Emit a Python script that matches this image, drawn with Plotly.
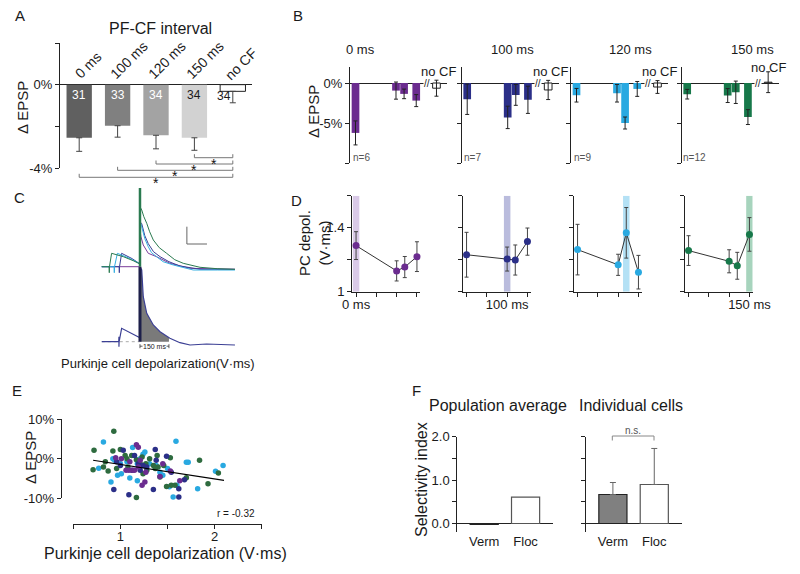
import numpy as np
import plotly.graph_objects as go

# ------------------------------------------------------------------ data
# Panel A : change of EPSP for each PF-CF interval (population)
a_labels = ["0 ms", "100 ms", "120 ms", "150 ms", "no CF"]
a_vals = [-2.55, -1.97, -2.43, -2.55, -0.32]
a_err = [0.65, 0.55, 0.65, 0.60, 0.55]
a_n = ["31", "33", "34", "34", "34"]
a_sig_pairs = [(3, 4), (2, 4), (1, 4), (0, 4)]

# Panel B : EPSP change vs. tested interval, for each trained interval
b_titles = ["0 ms", "100 ms", "120 ms", "150 ms"]
b_times = [0, 100, 120, 150]
b_vals = [[-6.24, -0.95, -1.36, -2.20],
          [-2.03, -4.30, -1.49, -2.10],
          [-1.53, -1.28, -5.00, -0.74],
          [-1.40, -1.57, -1.16, -4.26]]
b_err = [[1.50, 1.07, 0.60, 0.75],
         [1.90, 1.40, 1.30, 1.70],
         [0.85, 1.10, 0.75, 0.93],
         [0.60, 0.87, 1.40, 0.93]]
b_nocf_time = 200
b_nocf_vals = [-0.65, -0.87, -0.50, 0.10]
b_nocf_err = [1.00, 1.20, 0.80, 1.30]
b_n = ["n=6", "n=7", "n=9", "n=12"]

# Panel D : PC depolarization (V·ms)
d_vals = [[1.288, 1.130, 1.154, 1.219],
          [1.231, 1.204, 1.198, 1.313],
          [1.263, 1.168, 1.368, 1.122],
          [1.257, 1.190, 1.162, 1.358]]
d_err = [[0.087, 0.063, 0.066, 0.093],
         [0.140, 0.075, 0.094, 0.085],
         [0.158, 0.066, 0.158, 0.105],
         [0.093, 0.072, 0.084, 0.105]]

# Panel C : example traces (time ms relative to CF, voltage arbitrary units)
c_green_t = [-198, -160, -159, -158, -147, -120, -86, -35, 0, 0, 0, 9, 20, 35, 50, 69, 100, 138, 180, 224, 311, 400, 492]
c_green_v = [0, 0, -6, 0, 13.4, 12, 10, 6, 2.7, 110, 60, 56.7, 50, 43.4, 35, 26.7, 19, 13.4, 7, 3.4, -0.6, -2, -2.6]
c_cyan_t = [-198, -134, -133, -132, -117, -90, -50, -10, 0, 0, 0, 9, 25, 43, 60, 86, 120, 173, 276, 400, 492]
c_cyan_v = [0, 0, -6, 0, 13.4, 11.5, 8, 4, 3, 70, 45, 40, 28, 20, 14, 10, 5, 1.7, -3.3, -3.3, -3.3]
c_navy_t = [-198, -108, -107, -106, -95, -70, -40, -10, 0, 0, 0, 9, 25, 43, 70, 104, 150, 207, 311, 492]
c_navy_v = [0, 0, -6, 0, 13.4, 11, 8, 4, 3, 70, 45, 43, 31, 23, 15, 10, 5, 0.7, -2.6, -2.6]
c_purple_t = [-198, 0, 0, 0, 5, 17, 43, 86, 155, 259, 492]
c_purple_v = [0, 0, 60, 36.7, 30, 21.7, 13.4, 10, 3.4, -1.6, -2.6]
c_low_t = [-198, -110, -109, -109, -108, -95, -70, -40, -9, 0, 0, 9, 17, 35, 69, 104, 155, 207, 259, 345, 492]
c_low_v = [-75, -75, -70, -80, -75, -61.6, -64, -67, -70, -71, 0, -3.3, -30, -46.6, -58.3, -65, -71.6, -76, -78.3, -77.3, -78.3]
c_low_base = -75
c_window = 150

# Panel E : scatter, per group (x: V·ms, y: % EPSP change)
e_green_x = [0.93, 0.72, 0.71, 0.82, 0.87, 0.92, 1.00, 1.07, 1.12, 1.17, 1.23, 1.27, 1.31, 1.35, 1.39, 1.40, 1.46, 1.53,
             1.54, 1.49, 1.58, 1.70, 1.84, 1.93, 2.04, 1.17, 1.35, 1.24, 0.96, 0.84, 1.08, 1.21, 1.05, 1.28, 1.37, 1.42]
e_green_y = [6.9, 2.1, -2.8, -2.1, -3.1, 1.9, 2.3, 0.0, 0.8, -0.3, 0.4, -1.3, 0.0, -1.7, 0.8, -2.1, -1.7, 0.2,
             -6.7, -7.0, -6.7, -4.8, -0.4, -6.3, -3.6, -9.8, -10.5, -3.8, -2.5, -0.8, -2.1, -1.3, 0.8, -2.9, -2.5, -4.6]
e_cyan_x = [0.82, 0.77, 0.90, 0.92, 0.97, 1.01, 1.10, 1.13, 1.18, 1.18, 1.24, 1.26, 1.31, 1.42, 1.50, 1.52, 1.56, 1.59,
            1.60, 1.70, 1.72, 1.82, 2.01, 2.09, 0.94, 1.00, 1.07, 1.21, 1.38, 1.45]
e_cyan_y = [4.2, -2.4, -5.9, 0.0, -4.2, -3.8, -4.9, 2.8, -1.3, -5.6, 1.1, 1.7, -1.3, -3.4, -2.5, -7.1, -9.7, 4.4,
            -6.7, -0.9, -0.9, -7.6, -3.2, -1.7, -0.4, -1.3, -0.8, 0.0, -1.7, -4.2]
e_navy_x = [0.93, 1.09, 1.03, 1.15, 1.19, 1.24, 1.37, 1.38, 1.49, 1.54, 1.35, 1.62, 1.62, 1.68, 0.96, 1.00, 1.12, 1.21, 1.28]
e_navy_y = [-7.8, -9.1, 2.1, 0.8, -1.3, -1.7, 2.3, -0.4, 0.6, -3.4, -7.8, -7.6, -9.7, -5.3, -0.8, -1.7, -2.9, -2.9, -2.1]
e_purple_x = [1.01, 1.17, 1.19, 0.95, 1.01, 1.06, 1.10, 1.13, 1.15, 1.19, 1.23, 1.26, 1.27, 1.42, 1.45, 1.53, 1.63, 1.09, 1.21]
e_purple_y = [-12.0, 3.5, 2.9, 0.2, 0.0, -2.9, -0.8, -2.9, -2.9, -2.1, -6.7, -5.9, -3.4, -4.5, -1.3, -3.1, -5.6, -2.9, -0.4]
e_fit_x = [0.71, 2.10]
e_fit_y = [-0.4, -5.5]

# Panel F : selectivity index
f_cats = ["Verm", "Floc"]
f_pop_vals = [-0.02, 0.61]
f_cell_vals = [0.668, 0.899]
f_cell_err = [0.277, 0.83]

# ------------------------------------------------------------------ style
W, H = 800, 574
OFF = 8  # default page margin of the written html
FONT = "Liberation Sans, Arial, Helvetica, sans-serif"
TXT = "#1a1a1a"
AX = "#222222"
COL = ["#6b2c8f", "#2b2f88", "#29a9e1", "#17784a"]
LIGHT = ["#d9c9e7", "#babcdd", "#b4e1f5", "#a7d4bd"]
E_COL = ["#6b2c8f", "#2b2f88", "#29a9e1", "#2e6b3f"]
A_COL = ["#606060", "#808080", "#a3a3a3", "#d2d2d2", "#ffffff"]
A_TXT = ["white", "white", "white", TXT]


def fx(x):
    return (x - OFF) / W


def fy(y):
    return 1 - (y - OFF) / H


def dx(a, b):
    return [fx(a), fx(b)]


def dy(top, bottom):
    return [fy(bottom), fy(top)]


def yaxis(k, dom, rng, tv, tt, **kw):
    d = dict(domain=dom, range=rng, anchor=f"x{k}" if k > 1 else "x", showline=True, linecolor=AX,
             linewidth=1, ticks="outside", ticklen=4, tickcolor=AX, tickvals=tv, ticktext=tt,
             showgrid=False, zeroline=False, automargin=False,
             tickfont=dict(size=13, color=TXT), fixedrange=True)
    d.update(kw)
    return d


def xaxis(k, dom, rng, **kw):
    d = dict(domain=dom, range=rng, anchor=f"y{k}" if k > 1 else "y", showline=False, ticks="",
             showticklabels=False, showgrid=False, zeroline=False, automargin=False, fixedrange=True)
    d.update(kw)
    return d


fig = go.Figure()
layout = {}
ann = []
shapes = []


def text(x, y, s, size=13, color=TXT, xref="paper", yref="paper", **kw):
    a = dict(x=x, y=y, text=s, showarrow=False, xref=xref, yref=yref, xanchor="center", yanchor="middle",
             font=dict(size=size, color=color, family=FONT))
    a.update(kw)
    ann.append(a)


# ------------------------------------------------------------------ Panel A
layout["xaxis"] = xaxis(1, dx(60, 252), [-0.5, 4.5])
layout["yaxis"] = yaxis(1, dy(43, 168), [-4, 2], [-4, -2, 0, 2], ["-4%", "", "0%", ""],
                        zeroline=True, zerolinecolor=AX, zerolinewidth=1)
fig.add_trace(go.Bar(x=list(range(len(a_vals))), y=a_vals, width=0.66,
                     marker=dict(color=A_COL, line=dict(color=["rgba(0,0,0,0)"] * 4 + [AX], width=1)),
                     error_y=dict(type="data", symmetric=False, array=[0] * 5, arrayminus=a_err,
                                  color="#444", thickness=1, width=3),
                     xaxis="x", yaxis="y", cliponaxis=False))
for i, n in enumerate(a_n[:4]):
    text(i, -0.48, n, size=12, color=A_TXT[i], xref="x", yref="y")
text(3.77, -0.56, a_n[4], size=12, xref="x", yref="y")
label_centers = [(88, 65), (129, 60), (167, 60), (205, 60), (241, 64)]
for lab, (cx, cy) in zip(a_labels, label_centers):
    text(fx(cx), fy(cy), lab, size=14, textangle=-45)
text(fx(160), fy(28), "PF-CF interval", size=16)
text(fx(22), fy(108), "Δ EPSP", size=15, textangle=-90)
bracket_y = [157.7, 164, 170.3, 177.3]
for (i0, i1), by in zip(a_sig_pairs, bracket_y):
    shapes.append(dict(type="path", xref="x", yref="paper",
                       path=f"M {i0},{fy(by - 3.5)} L {i0},{fy(by)} L {i1},{fy(by)} L {i1},{fy(by - 3.5)}",
                       line=dict(color="#777", width=1)))
    text((i0 + i1) / 2, fy(by + 6), "*", size=14, color="#111", xref="x")

# ------------------------------------------------------------------ Panel B
b_left = [350, 461.7, 571, 681.7]
for i in range(4):
    k = 2 + i
    layout[f"xaxis{k}"] = xaxis(k, dx(b_left[i], b_left[i] + 97), [-13.6, 226])
    layout[f"yaxis{k}"] = yaxis(k, dy(67, 163), [-10, 2], [-10, -5, 0],
                                ["", "-5%", "0%"] if i == 0 else ["", "", ""],
                                zeroline=True, zerolinecolor=AX, zerolinewidth=1)
    xa, ya = f"x{k}", f"y{k}"
    fig.add_trace(go.Bar(x=b_times, y=b_vals[i], width=19, marker=dict(color=COL[i], line=dict(width=0)),
                         error_y=dict(type="data", array=b_err[i], color="#222", thickness=1, width=2),
                         xaxis=xa, yaxis=ya))
    fig.add_trace(go.Bar(x=[b_nocf_time], y=[b_nocf_vals[i]], width=19,
                         marker=dict(color="white", line=dict(color="#222", width=1)),
                         error_y=dict(type="data", array=[b_nocf_err[i]], color="#222", thickness=1, width=2),
                         xaxis=xa, yaxis=ya))
    fig.add_trace(go.Scatter(x=[b_times[i]], y=[2.2], mode="markers", cliponaxis=False,
                             marker=dict(symbol="triangle-down", size=9, color=COL[i]),
                             xaxis=xa, yaxis=ya))
    text(b_times[i], fy(50), b_titles[i], size=13, xref=xa, xshift=5)
    text(176, 0, "//", size=10, xref=xa, yref=ya, bgcolor="white", borderpad=0)
    text(206 if i < 3 else 200, 1.5 if i < 3 else 2.0, "no CF", size=13, xref=xa, yref=ya)
    text(14 if i < 3 else 17, -9.3, b_n[i], size=10, color="#555", xref=xa, yref=ya)
text(fx(313), fy(112), "Δ EPSP", size=15, textangle=-90)

# ------------------------------------------------------------------ Panel C
layout["xaxis6"] = dict(domain=dx(95, 245), range=[-233, 544], anchor="y6", visible=False,
                        automargin=False, fixedrange=True)
layout["yaxis6"] = dict(domain=dy(188, 352), range=[-85.3, 78.7], anchor="x6", visible=False,
                        automargin=False, fixedrange=True)
start = c_low_v.index(max(c_low_v))
fill_t = [0] + [c_low_t[j] for j in range(start, len(c_low_t)) if c_low_t[j] <= c_window]
fill_v = [c_low_base] + [c_low_v[j] for j in range(start, len(c_low_t)) if c_low_t[j] <= c_window]
v_end = float(np.interp(c_window, c_low_t[start:], c_low_v[start:]))
fill_t += [c_window, c_window, 0]
fill_v += [v_end, c_low_base, c_low_base]
fig.add_trace(go.Scatter(x=fill_t, y=fill_v, mode="lines", fill="toself", fillcolor="#7a7a7a",
                         line=dict(width=0), xaxis="x6", yaxis="y6"))
fig.add_trace(go.Scatter(x=[c_low_t[0], 0], y=[c_low_base, c_low_base], mode="lines",
                         line=dict(color="#aaaaaa", width=1, dash="dot"), xaxis="x6", yaxis="y6"))
fig.add_trace(go.Scatter(x=c_low_t, y=c_low_v, mode="lines", line=dict(color="#3b3f94", width=1.2),
                         xaxis="x6", yaxis="y6"))
fig.add_trace(go.Scatter(x=[0, 0], y=[c_low_base, 0], mode="lines", line=dict(color="#1d1f4a", width=3),
                         xaxis="x6", yaxis="y6"))
for tt, vv, cc in [(c_purple_t, c_purple_v, "#7b3d9b"), (c_navy_t, c_navy_v, "#3a3f95"),
                   (c_cyan_t, c_cyan_v, "#35afe2"), (c_green_t, c_green_v, "#2a7a50")]:
    fig.add_trace(go.Scatter(x=tt, y=vv, mode="lines", line=dict(color=cc, width=1),
                             xaxis="x6", yaxis="y6"))
fig.add_trace(go.Scatter(x=[0, 0], y=[0, 110], mode="lines", line=dict(color="#2a7a50", width=2.5),
                         xaxis="x6", yaxis="y6"))
shapes.append(dict(type="path", xref="x6", yref="y6", path="M 243,40 L 243,22.7 L 347,22.7",
                   line=dict(color="#666", width=1)))
shapes.append(dict(type="path", xref="x6", yref="y6",
                   path=f"M 0,-77.5 L 0,-81.5 M 0,-79.5 L {c_window},-79.5 M {c_window},-77.5 L {c_window},-81.5",
                   line=dict(color="#333", width=0.8)))
text(c_window / 2, -79.5, "150 ms", size=7, xref="x6", yref="y6", bgcolor="white", borderpad=0)
text(fx(158), fy(363), "Purkinje cell depolarization(V·ms)", size=13)

# ------------------------------------------------------------------ Panel D
d_left = [352, 462.5, 573.5, 684.5]
for i in range(4):
    k = 7 + i
    xa, ya = f"x{k}", f"y{k}"
    layout[f"xaxis{k}"] = dict(domain=dx(d_left[i], d_left[i] + 68.2), range=[-10, 158], anchor=ya,
                               showline=True, linecolor=AX, linewidth=1, ticks="outside", ticklen=4,
                               tickcolor=AX, tickvals=[0, 50, 100, 150], ticklabelstandoff=-3,
                               ticktext=[b_titles[i] if t == b_times[i] else "" for t in [0, 50, 100, 150]],
                               tickfont=dict(size=13, color=TXT), showgrid=False, zeroline=False,
                               automargin=False, fixedrange=True)
    layout[f"yaxis{k}"] = yaxis(k, dy(195.7, 291.7), [1, 1.6], [1, 1.2, 1.4, 1.6],
                                ["1", "", "1.4", ""] if i == 0 else ["", "", "", ""])
    shapes.append(dict(type="rect", xref=xa, yref=ya, x0=b_times[i] - 8, x1=b_times[i] + 8, y0=1, y1=1.6,
                       fillcolor=LIGHT[i], line=dict(width=0), layer="below"))
    fig.add_trace(go.Scatter(x=b_times, y=d_vals[i], mode="lines+markers", cliponaxis=False,
                             line=dict(color="#333", width=1), marker=dict(color=COL[i], size=7),
                             error_y=dict(type="data", array=d_err[i], color="#444", thickness=1, width=2),
                             xaxis=xa, yaxis=ya))
text(fx(314), fy(243), "PC depol.<br>(V·ms)", size=15, textangle=-90)

# ------------------------------------------------------------------ Panel E
layout["xaxis11"] = dict(domain=dx(73.3, 261.7), range=[0.5, 2.5], anchor="free", position=fy(524.3),
                         showline=True, linecolor=AX, linewidth=1, ticks="outside", ticklen=4, tickcolor=AX,
                         tickvals=[0.5, 1, 1.5, 2, 2.5], ticktext=["", "1", "", "2", ""], ticklabelstandoff=-4,
                         tickfont=dict(size=13, color=TXT), showgrid=False, zeroline=False,
                         automargin=False, fixedrange=True)
layout["yaxis11"] = yaxis(11, dy(419, 498.3), [-10, 10], [-10, 0, 10], ["-10%", "0%", "10%"],
                          anchor="free", position=fx(60.7))
for xs, ys, cc in [(e_cyan_x, e_cyan_y, E_COL[2]), (e_green_x, e_green_y, E_COL[3]),
                   (e_navy_x, e_navy_y, E_COL[1]), (e_purple_x, e_purple_y, E_COL[0])]:
    fig.add_trace(go.Scatter(x=xs, y=ys, mode="markers", cliponaxis=False,
                             marker=dict(color=cc, size=5.5, line=dict(width=0)),
                             xaxis="x11", yaxis="y11"))
fig.add_trace(go.Scatter(x=e_fit_x, y=e_fit_y, mode="lines", line=dict(color="black", width=1.2),
                         xaxis="x11", yaxis="y11"))
text(fx(236), fy(513), "r = -0.32", size=10)
text(fx(165), fy(553), "Purkinje cell depolarization (V·ms)", size=16)
text(fx(30), fy(458), "Δ EPSP", size=15, textangle=-90)

# ------------------------------------------------------------------ Panel F
for k, left, vals, err, lab in [(12, 457.3, f_pop_vals, None, True), (13, 586, f_cell_vals, f_cell_err, False)]:
    xa, ya = f"x{k}", f"y{k}"
    layout[f"xaxis{k}"] = xaxis(k, dx(left, left + 96), [-0.65, 1.67], showticklabels=True,
                                tickvals=[0, 1], ticktext=f_cats, tickfont=dict(size=13, color=TXT))
    layout[f"yaxis{k}"] = yaxis(k, dy(436.7, 532.2), [-0.2, 2.0], [0, 0.5, 1, 1.5, 2],
                                ["0.0", "", "1.0", "", "2.0"] if lab else [""] * 5,
                                zeroline=True, zerolinecolor=AX, zerolinewidth=1)
    bar = dict(x=[0, 1], y=vals, width=0.68,
               marker=dict(color=["#808080", "white"], line=dict(color=["#222", "#555"], width=1.2)),
               xaxis=xa, yaxis=ya)
    if err is not None:
        bar["error_y"] = dict(type="data", symmetric=False, array=err, arrayminus=[0, 0],
                              color="#666", thickness=1, width=3)
    fig.add_trace(go.Bar(**bar))
text(fx(498), fy(405), "Population average", size=16)
text(fx(631), fy(405), "Individual cells", size=16)
text(fx(421), fy(480), "Selectivity index", size=16, textangle=-90)
shapes.append(dict(type="path", xref="paper", yref="paper",
                   path=f"M {fx(612.3)},{fy(440.5)} L {fx(612.3)},{fy(436)} L {fx(654)},{fy(436)} L {fx(654)},{fy(440.5)}",
                   line=dict(color="#888", width=1)))
text(fx(633), fy(430), "n.s.", size=10, color="#555")

# ------------------------------------------------------------------ panel letters
for letter, (lx, ly) in {"A": (20, 15), "B": (298, 15), "C": (19, 198), "D": (296, 200),
                         "E": (17, 390), "F": (416, 390)}.items():
    text(fx(lx), fy(ly), letter, size=15)

fig.update_layout(template="none", width=W, height=H, margin=dict(l=0, r=0, t=0, b=0, pad=0),
                  paper_bgcolor="white", plot_bgcolor="white", showlegend=False, barmode="overlay",
                  font=dict(family=FONT, color=TXT), annotations=ann, shapes=shapes, **layout)
fig.write_html("out.html")
